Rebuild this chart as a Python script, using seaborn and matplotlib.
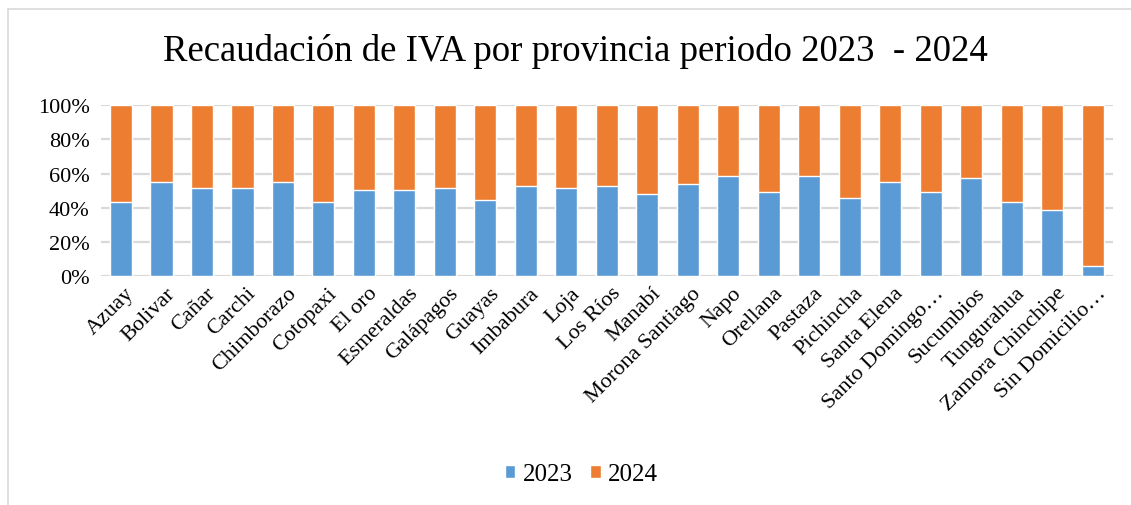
import matplotlib
matplotlib.use("Agg")
import matplotlib.pyplot as plt
import matplotlib.transforms as mtransforms
import seaborn as sns
import pandas as pd
from matplotlib.patches import Patch
from matplotlib.lines import Line2D
from matplotlib.ticker import PercentFormatter

# Data (share of each year, percent)
provincias = ["Azuay", "Bolivar", "Cañar", "Carchi", "Chimborazo", "Cotopaxi",
              "El oro", "Esmeraldas", "Galápagos", "Guayas", "Imbabura", "Loja",
              "Los Ríos", "Manabí", "Morona Santiago", "Napo", "Orellana",
              "Pastaza", "Pichincha", "Santa Elena", "Santo Domingo…",
              "Sucumbios", "Tungurahua", "Zamora Chinchipe", "Sin Domicilio…"]
pct_2023 = [43.3, 55.1, 51.7, 51.7, 55.1, 43.3, 50.5, 50.5, 51.7, 44.7, 52.8, 51.7,
            52.8, 48.2, 54.0, 58.6, 49.3, 58.6, 45.8, 55.1, 49.3, 57.5, 43.5, 38.8, 6.2]
pct_2024 = [56.7, 44.9, 48.3, 48.3, 44.9, 56.7, 49.5, 49.5, 48.3, 55.3, 47.2, 48.3,
            47.2, 51.8, 46.0, 41.4, 50.7, 41.4, 54.2, 44.9, 50.7, 42.5, 56.5, 61.2, 93.8]

c23 = "#5B9BD5"
c24 = "#ED7D31"

sns.set_theme(style="white")
plt.rcParams["font.family"] = ["Liberation Serif", "DejaVu Serif"]
plt.rcParams["text.color"] = "black"

df = pd.DataFrame({"provincia": provincias, "p23": pct_2023, "p24": pct_2024})
df["total"] = df["p23"] + df["p24"]

fig = plt.figure(figsize=(11.31, 5.06), dpi=100)
ax = fig.add_axes([0.089, 0.4516, 0.895, 0.339])

ax.set_axisbelow(True)
ax.yaxis.grid(True, color="#D9D9D9", linewidth=1.6)
sns.barplot(data=df, x="provincia", y="total", color=c24, width=0.55,
            saturation=1, ax=ax)
sns.barplot(data=df, x="provincia", y="p23", color=c23, width=0.55,
            saturation=1, ax=ax)

ax.set_ylim(0, 100)
ax.set_xlim(-0.5, len(provincias) - 0.5)
ax.set_yticks(range(0, 101, 20))
ax.yaxis.set_major_formatter(PercentFormatter(decimals=0))
ax.set_xlabel("")
ax.set_ylabel("")
for s in ax.spines.values():
    s.set_visible(False)
ax.tick_params(axis="both", length=0, labelsize=16, colors="black")
ax.tick_params(axis="y", pad=8)
ax.tick_params(axis="x", pad=5)
shift = mtransforms.ScaledTranslation(4 / 100, 0, fig.dpi_scale_trans)
for lbl in ax.get_xticklabels():
    lbl.set_rotation(45)
    lbl.set_ha("right")
    lbl.set_rotation_mode("anchor")
    lbl.set_transform(lbl.get_transform() + shift)

fig.suptitle("Recaudación de IVA por provincia periodo 2023  - 2024",
             fontsize=26.5, y=0.899, va="center", x=0.509, color="black")

handles = [Patch(facecolor=c23, label="2023"), Patch(facecolor=c24, label="2024")]
fig.legend(handles=handles, loc="center", bbox_to_anchor=(0.514, 0.061), ncol=2,
           frameon=False, fontsize=18, handlelength=0.42, handleheight=0.42,
           handletextpad=0.3, columnspacing=0.7, borderpad=0)

# chart frame (cut off on the right and bottom)
fig.add_artist(Line2D([8 / 1131, 1], [1 - 10 / 506, 1 - 10 / 506],
                      transform=fig.transFigure, color="#D9D9D9", lw=1.2))
fig.add_artist(Line2D([8 / 1131, 8 / 1131], [0, 1 - 10 / 506],
                      transform=fig.transFigure, color="#D9D9D9", lw=1.2))

fig.savefig("out.png", dpi=100)
